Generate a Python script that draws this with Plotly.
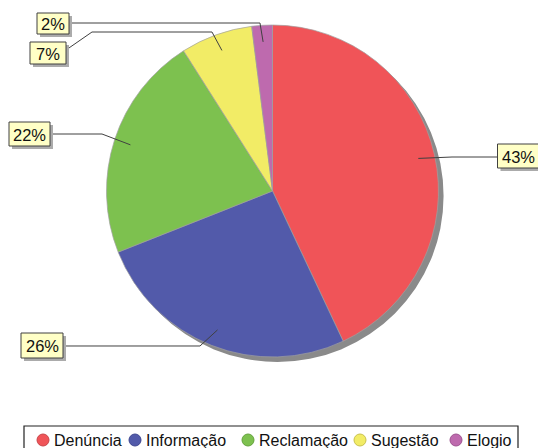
import math
import plotly.graph_objects as go

# ---- data ----
categories = ["Denúncia", "Informação", "Reclamação", "Sugestão", "Elogio"]
values = [43, 26, 22, 7, 2]
label_texts = ["43%", "26%", "22%", "7%", "2%"]

# ---- styling / layout ----
W, H = 538, 448
colors = ["#F05458", "#525AAA", "#7DC14F", "#F2EC66", "#BE6AAE"]
edge_colors = ["#C94549", "#3F4791", "#64A23C", "#C9C24E", "#9E5290"]
CX, CY, R = 272.5, 191.0, 166.0  # pie centre / radius in px
SHADOW = 5
FONT = "Liberation Sans, Arial, sans-serif"

def X(px):
    return px / W

def Y(py):
    return 1 - py / H

def dom(cx, cy, r):
    return dict(x=[X(cx - r), X(cx + r)], y=[Y(cy + r), Y(cy - r)])

fig = go.Figure()

# shadow pie
fig.add_trace(go.Pie(values=[1], labels=["shadow"], domain=dom(CX + SHADOW, CY + SHADOW, R),
                     marker=dict(colors=["#8A8A8A"], line=dict(width=0)),
                     textinfo="none", hoverinfo="skip", showlegend=False, sort=False))

fig.add_trace(go.Pie(values=values, labels=categories, domain=dom(CX, CY, R),
                     marker=dict(colors=colors, line=dict(color="#A0A0A0", width=0.7)),
                     sort=False, direction="clockwise", rotation=0,
                     textinfo="none", hoverinfo="label+percent", showlegend=False))

# label boxes: centre (px), size, leader-line bend points (px)
boxes = [
    dict(c=(518.5, 156), s=(42, 24), bends=[(452, 157), (497, 157)]),
    dict(c=(42, 345.5), s=(42, 25), bends=[(200, 346), (63, 346)]),
    dict(c=(29.5, 134), s=(41, 24), bends=[(102, 134), (50, 134)]),
    dict(c=(48, 53), s=(36, 22), bends=[(212, 32), (92, 32), (66, 50)]),
    dict(c=(53, 23.5), s=(32, 21), bends=[(260, 23), (69, 23)]),
]

shapes = []
annotations = []
total = sum(values)
cum = 0
for i, v in enumerate(values):
    mid = (cum + v / 2) / total * 2 * math.pi
    cum += v
    ix = CX + 0.9 * R * math.sin(mid)
    iy = CY - 0.9 * R * math.cos(mid)
    pts = [(ix, iy)] + boxes[i]["bends"]
    path = "M " + " L ".join(f"{X(p[0]):.5f},{Y(p[1]):.5f}" for p in pts)
    shapes.append(dict(type="path", xref="paper", yref="paper", path=path,
                       line=dict(color="#404040", width=1), layer="above"))
    (bx, by), (bw, bh) = boxes[i]["c"], boxes[i]["s"]
    shapes.append(dict(type="rect", xref="paper", yref="paper",
                       x0=X(bx - bw / 2 + 3), x1=X(bx + bw / 2 + 3),
                       y0=Y(by + bh / 2 + 3), y1=Y(by - bh / 2 + 3),
                       fillcolor="#ABABAB", line=dict(width=0), layer="above"))
    shapes.append(dict(type="rect", xref="paper", yref="paper",
                       x0=X(bx - bw / 2), x1=X(bx + bw / 2),
                       y0=Y(by + bh / 2), y1=Y(by - bh / 2),
                       fillcolor="#FFFFC6", line=dict(color="#404040", width=1), layer="above"))
    annotations.append(dict(text=label_texts[i], xref="paper", yref="paper",
                            x=X(bx), y=Y(by + 0.5), xanchor="center", yanchor="middle",
                            showarrow=False, font=dict(size=16.5, color="#111111", family=FONT)))

# manual legend
shapes.append(dict(type="rect", xref="paper", yref="paper", x0=X(24), x1=X(518),
                   y0=Y(452), y1=Y(426), line=dict(color="#222222", width=1.2),
                   fillcolor="rgba(0,0,0,0)", layer="above"))
leg_circle_x = [43, 135, 248, 360, 456]
LEG_Y = 440
for i, name in enumerate(categories):
    cx = leg_circle_x[i]
    shapes.append(dict(type="circle", xref="paper", yref="paper",
                       x0=X(cx - 6), x1=X(cx + 6), y0=Y(LEG_Y + 6), y1=Y(LEG_Y - 6),
                       fillcolor=colors[i], line=dict(color=edge_colors[i], width=1), layer="above"))
    annotations.append(dict(text=name, xref="paper", yref="paper", x=X(cx + 9), y=Y(LEG_Y),
                            xanchor="left", yanchor="middle", showarrow=False,
                            font=dict(size=16, color="#111111", family=FONT)))

fig.update_layout(width=W, height=H, margin=dict(l=0, r=0, t=0, b=0),
                  paper_bgcolor="white", plot_bgcolor="white",
                  shapes=shapes, annotations=annotations, showlegend=False)

fig.write_html("out.html", config={"displayModeBar": False},
               post_script="document.body.style.margin='0';document.body.style.overflow='hidden';")
